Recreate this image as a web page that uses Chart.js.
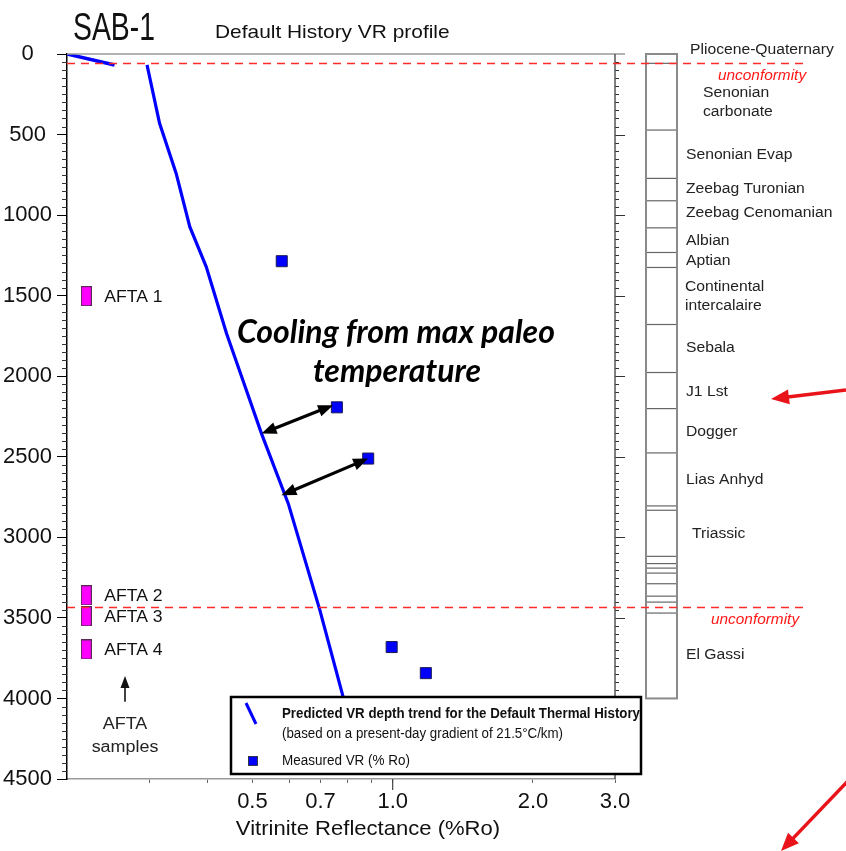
<!DOCTYPE html>
<html>
<head>
<meta charset="utf-8">
<title>SAB-1 Default History VR profile</title>
<script src="https://cdn.jsdelivr.net/npm/chart.js@4.4.1/dist/chart.umd.min.js"></script>
<style>
  html, body { margin: 0; padding: 0; background: #fff; }
  canvas { display: block; }
</style>
</head>
<body>
<canvas id="vrChart" width="846" height="851"></canvas>
<script>
// depth in metres, vitrinite reflectance in %Ro
const surfaceVR = [0.2, 0.253];
const surfaceDepth = [0, 68];
const trendVR = [0.297, 0.316, 0.343, 0.367, 0.398, 0.440, 0.477, 0.523, 0.597, 0.698, 0.783, 0.855];
const trendDepth = [68, 430, 741, 1073, 1321, 1735, 2025, 2356, 2791, 3453, 3992, 4420];
const measuredVR = [0.578, 0.759, 0.886, 0.995, 1.178];
const measuredDepth = [1286, 2193, 2511, 3681, 3843];

const aftaNames = ['AFTA 1', 'AFTA 2', 'AFTA 3', 'AFTA 4'];
const aftaDepth = [1503, 3360, 3490, 3696];

const unconformityDepth = [56, 3435];
const formationTops = [58, 472, 772, 911, 1079, 1232, 1325, 1679, 1977, 2201, 2476,
  2805, 2832, 3118, 3163, 3191, 3222, 3288, 3365, 3402, 3470];
const columnBase = 4000;
const formationNames = ['Pliocene-Quaternary', 'Senonian\ncarbonate', 'Senonian Evap',
  'Zeebag Turonian', 'Zeebag Cenomanian', 'Albian', 'Aptian', 'Continental\nintercalaire',
  'Sebala', 'J1 Lst', 'Dogger', 'Lias Anhyd', 'Triassic', 'El Gassi'];
const formationLabelDepth = [-25, 299, 627, 839, 989, 1160, 1284, 1507, 1828, 2098, 2346, 2646, 2981, 3733];

// cooling arrows, from the predicted trend to the measured value
const coolFromVR = [0.523, 0.577];
const coolFromDepth = [2356, 2739];
const coolToVR = [0.745, 0.886];
const coolToDepth = [2180, 2511];

const xTicks = [0.3, 0.4, 0.5, 0.6, 0.7, 0.8, 0.9, 1, 2, 3];
const xTickLabels = [0.5, 0.7, 1, 2, 3];
const depthTicks = [0, 500, 1000, 1500, 2000, 2500, 3000, 3500, 4000, 4500];

const pts = (xs, ys) => xs.map((x, i) => ({ x: x, y: ys[i] }));

const AFTA_VR = 0.22;
const formationIndent = [13, 26, 9, 9, 9, 9, 9, 8, 9, 9, 9, 9, 15, 9];

function txt(ctx, text, x, y, font, color, align, sx) {
  sx = sx || 1;
  ctx.save();
  ctx.font = font;
  ctx.fillStyle = color;
  ctx.textBaseline = 'middle';
  ctx.textAlign = 'left';
  const w = ctx.measureText(text).width * sx;
  let left = x;
  if (align === 'center') left = x - w / 2;
  else if (align === 'right') left = x - w;
  ctx.translate(left, y);
  ctx.scale(sx, 1);
  ctx.fillText(text, 0, 0);
  ctx.restore();
}

function head(ctx, fx, fy, tx, ty, len, half) {
  const a = Math.atan2(ty - fy, tx - fx);
  const c = Math.cos(a), s = Math.sin(a);
  ctx.beginPath();
  ctx.moveTo(tx, ty);
  ctx.lineTo(tx - len * c + half * s, ty - len * s - half * c);
  ctx.lineTo(tx - len * c - half * s, ty - len * s + half * c);
  ctx.closePath();
  ctx.fill();
}

function arrow(ctx, fx, fy, tx, ty, opts) {
  const a = Math.atan2(ty - fy, tx - fx);
  const back = opts.len * 0.7;
  ctx.save();
  ctx.strokeStyle = opts.color;
  ctx.fillStyle = opts.color;
  ctx.lineWidth = opts.width;
  ctx.beginPath();
  const sx = opts.both ? fx + back * Math.cos(a) : fx;
  const sy = opts.both ? fy + back * Math.sin(a) : fy;
  ctx.moveTo(sx, sy);
  ctx.lineTo(tx - back * Math.cos(a), ty - back * Math.sin(a));
  ctx.stroke();
  head(ctx, fx, fy, tx, ty, opts.len, opts.half);
  if (opts.both) head(ctx, tx, ty, fx, fy, opts.len, opts.half);
  ctx.restore();
}

// magenta sample marker used as point style
const aftaMark = document.createElement('canvas');
aftaMark.width = 11;
aftaMark.height = 20;
(function () {
  const g = aftaMark.getContext('2d');
  g.fillStyle = '#ff00ff';
  g.fillRect(0.5, 0.5, 10, 19);
  g.strokeStyle = '#5a2a55';
  g.lineWidth = 1;
  g.strokeRect(0.5, 0.5, 10, 19);
})();

const decorations = {
  id: 'decorations',
  beforeDraw(chart) {
    const ctx = chart.ctx;
    ctx.save();
    ctx.fillStyle = '#fff';
    ctx.fillRect(0, 0, chart.width, chart.height);
    ctx.restore();
  },
  afterDatasetsDraw(chart) {
    const ctx = chart.ctx;
    const a = chart.chartArea;
    const xs = chart.scales.x, ys = chart.scales.y;

    // minor depth ticks, left and right
    ctx.save();
    ctx.strokeStyle = '#333';
    ctx.lineWidth = 1;
    for (let d = 50; d < 4500; d += 50) {
      const y = Math.round(ys.getPixelForValue(d)) + 0.5;
      ctx.beginPath();
      if (d % 500 !== 0) {
        ctx.moveTo(a.left - 5, y);
        ctx.lineTo(a.left, y);
      }
      ctx.moveTo(a.right, y);
      ctx.lineTo(a.right + (d % 500 === 0 ? 10 : 4), y);
      ctx.stroke();
    }
    // top frame and right axis
    ctx.strokeStyle = '#999';
    ctx.lineWidth = 1.5;
    ctx.beginPath();
    ctx.moveTo(a.left, a.top);
    ctx.lineTo(a.right + 10, a.top);
    ctx.stroke();
    ctx.strokeStyle = '#555';
    ctx.beginPath();
    ctx.moveTo(a.right, a.top);
    ctx.lineTo(a.right, a.bottom);
    ctx.stroke();
    // longer tick at 1.0
    ctx.strokeStyle = '#444';
    ctx.lineWidth = 1.2;
    const x1 = xs.getPixelForValue(1);
    ctx.beginPath();
    ctx.moveTo(x1, a.bottom);
    ctx.lineTo(x1, a.bottom + 11);
    ctx.stroke();
    ctx.restore();

    // stratigraphic column
    const colL = a.right + 31, colW = 31;
    const yTop = ys.getPixelForValue(0), yBase = ys.getPixelForValue(columnBase);
    ctx.save();
    ctx.strokeStyle = '#666';
    ctx.lineWidth = 1.2;
    formationTops.forEach(d => {
      const y = ys.getPixelForValue(d);
      ctx.beginPath();
      ctx.moveTo(colL, y);
      ctx.lineTo(colL + colW, y);
      ctx.stroke();
    });
    ctx.strokeStyle = '#8a8a8a';
    ctx.lineWidth = 2;
    ctx.strokeRect(colL, yTop, colW, yBase - yTop);
    ctx.restore();

    formationNames.forEach((name, i) => {
      const lines = name.split('\n');
      const yc = ys.getPixelForValue(formationLabelDepth[i]);
      lines.forEach((ln, k) => {
        const y = yc + (k - (lines.length - 1) / 2) * 19;
        txt(ctx, ln, colL + colW + formationIndent[i], y, '14px "Liberation Sans"', '#222', 'left', 1.12);
      });
    });

    // unconformities
    ctx.save();
    ctx.strokeStyle = '#ff2a2a';
    ctx.lineWidth = 1.4;
    ctx.setLineDash([8, 6]);
    unconformityDepth.forEach(d => {
      const y = Math.round(ys.getPixelForValue(d)) + 0.5;
      ctx.beginPath();
      ctx.moveTo(a.left, y);
      ctx.lineTo(a.right + 193, y);
      ctx.stroke();
    });
    ctx.restore();
    const uncX = [147, 140];
    unconformityDepth.forEach((d, i) => {
      const y = ys.getPixelForValue(d) + 13;
      txt(ctx, 'unconformity', a.right + uncX[i], y, 'italic 14px "Liberation Sans"', '#ff1a1a', 'center', 1.1);
    });

    // AFTA sample labels
    const aftaMeta = chart.getDatasetMeta(3);
    aftaMeta.data.forEach((p, i) => {
      txt(ctx, aftaNames[i], p.x + 18, p.y + 1, '16px "Liberation Sans"', '#111', 'left', 1.1);
    });
    const ax = a.left + 58;
    arrow(ctx, ax, ys.getPixelForValue(4020), ax, ys.getPixelForValue(3860), { color: '#111', width: 1.6, len: 12, half: 4.5 });
    txt(ctx, 'AFTA', ax, ys.getPixelForValue(4165), '16px "Liberation Sans"', '#222', 'center', 1.12);
    txt(ctx, 'samples', ax, ys.getPixelForValue(4308), '16px "Liberation Sans"', '#222', 'center', 1.12);

    // cooling arrows
    coolFromVR.forEach((v, i) => {
      arrow(ctx, xs.getPixelForValue(v), ys.getPixelForValue(coolFromDepth[i]),
        xs.getPixelForValue(coolToVR[i]), ys.getPixelForValue(coolToDepth[i]),
        { color: '#000', width: 3.2, len: 15, half: 6, both: true });
    });
    ctx.save();
    ctx.font = 'italic bold 32px Lato';
    ctx.fillStyle = '#000';
    ctx.textAlign = 'center';
    ctx.textBaseline = 'middle';
    ctx.fillText('Cooling from max paleo', 396, 333, 318);
    ctx.fillText('temperature', 397, 372, 170);
    ctx.restore();
  },
  afterDraw(chart) {
    const ctx = chart.ctx;

    // titles
    ctx.save();
    ctx.font = '39px "Liberation Sans"';
    ctx.fillStyle = '#111';
    ctx.textBaseline = 'alphabetic';
    ctx.fillText('SAB-1', 73, 40, 82);
    ctx.restore();
    txt(ctx, 'Default History VR profile', 215, 33, '19px "Liberation Sans"', '#111', 'left', 1.1);

    // axis title
    txt(ctx, 'Vitrinite Reflectance (%Ro)', 368, 829, '21px "Liberation Sans"', '#111', 'center', 1.05);

    // legend box
    const lx = 231, ly = 697, lw = 410, lh = 77;
    ctx.save();
    ctx.fillStyle = '#fff';
    ctx.fillRect(lx, ly, lw, lh);
    ctx.strokeStyle = '#000';
    ctx.lineWidth = 2.5;
    ctx.strokeRect(lx, ly, lw, lh);
    ctx.strokeStyle = '#0000ff';
    ctx.lineWidth = 3;
    ctx.beginPath();
    ctx.moveTo(lx + 15, ly + 6);
    ctx.lineTo(lx + 25, ly + 27);
    ctx.stroke();
    ctx.fillStyle = '#0000ff';
    ctx.fillRect(lx + 17.5, ly + 59.5, 9, 9);
    ctx.strokeStyle = '#222';
    ctx.lineWidth = 0.8;
    ctx.strokeRect(lx + 17.5, ly + 59.5, 9, 9);
    ctx.fillStyle = '#111';
    ctx.textBaseline = 'middle';
    ctx.font = 'bold 14px "Liberation Sans"';
    ctx.fillText('Predicted VR depth trend for the Default Thermal History', lx + 51, ly + 17, 358);
    ctx.font = '14px "Liberation Sans"';
    ctx.fillText('(based on a present-day gradient of 21.5\u00B0C/km)', lx + 51, ly + 37, 281);
    ctx.fillText('Measured VR (% Ro)', lx + 51, ly + 64, 128);
    ctx.restore();

    // pointers at the column
    const red = { color: '#e8141a', width: 3.5, len: 18, half: 7.5 };
    arrow(ctx, 846, 390, 771, 399, red);
    arrow(ctx, 848, 781, 781, 851, red);
  }
};

new Chart(document.getElementById('vrChart'), {
  type: 'scatter',
  data: {
    datasets: [
      {
        label: 'Predicted VR depth trend (surface)',
        data: pts(surfaceVR, surfaceDepth),
        showLine: true,
        borderColor: '#0000ff',
        borderWidth: 3.5,
        pointRadius: 0,
        tension: 0,
      },
      {
        label: 'Predicted VR depth trend',
        data: pts(trendVR, trendDepth),
        showLine: true,
        borderColor: '#0000ff',
        borderWidth: 3.2,
        pointRadius: 0,
        tension: 0,
      },
      {
        label: 'Measured VR (% Ro)',
        data: pts(measuredVR, measuredDepth),
        pointStyle: 'rect',
        pointRadius: 7.8,
        backgroundColor: '#0000ff',
        borderColor: '#1a1a55',
        borderWidth: 1,
      },
      {
        label: 'AFTA samples',
        data: aftaDepth.map(d => ({ x: AFTA_VR, y: d })),
        pointStyle: aftaMark,
        pointRadius: 6,
      },
    ],
  },
  options: {
    responsive: false,
    animation: false,
    devicePixelRatio: 1,
    layout: { padding: { left: 0, top: 54, right: 231, bottom: 0 } },
    plugins: {
      legend: { display: false },
      tooltip: { enabled: false },
    },
    scales: {
      x: {
        type: 'logarithmic',
        position: 'bottom',
        min: 0.2,
        max: 3.0,
        afterBuildTicks(scale) {
          scale.ticks = xTicks.map(v => ({ value: v }));
        },
        afterFit(scale) { scale.height = 72; },
        ticks: {
          autoSkip: false,
          maxRotation: 0,
          padding: 6,
          color: '#111',
          font: { family: 'Liberation Sans', size: 22 },
          callback: v => (xTickLabels.includes(v) ? v.toFixed(1) : ''),
        },
        grid: { display: true, drawOnChartArea: false, tickLength: 4, color: '#666' },
        border: { display: true, color: '#999', width: 1.5 },
      },
      y: {
        type: 'linear',
        reverse: true,
        min: 0,
        max: 4500,
        afterBuildTicks(scale) {
          scale.ticks = depthTicks.map(v => ({ value: v }));
        },
        afterFit(scale) { scale.width = 67; },
        ticks: {
          crossAlign: 'center',
          padding: 5,
          color: '#111',
          font: { family: 'Liberation Sans', size: 22 },
          callback: v => String(v),
        },
        grid: { display: true, drawOnChartArea: false, tickLength: 10, color: '#000' },
        border: { display: true, color: '#000', width: 1.5 },
      },
    },
  },
  plugins: [decorations],
});
</script>
</body>
</html>
